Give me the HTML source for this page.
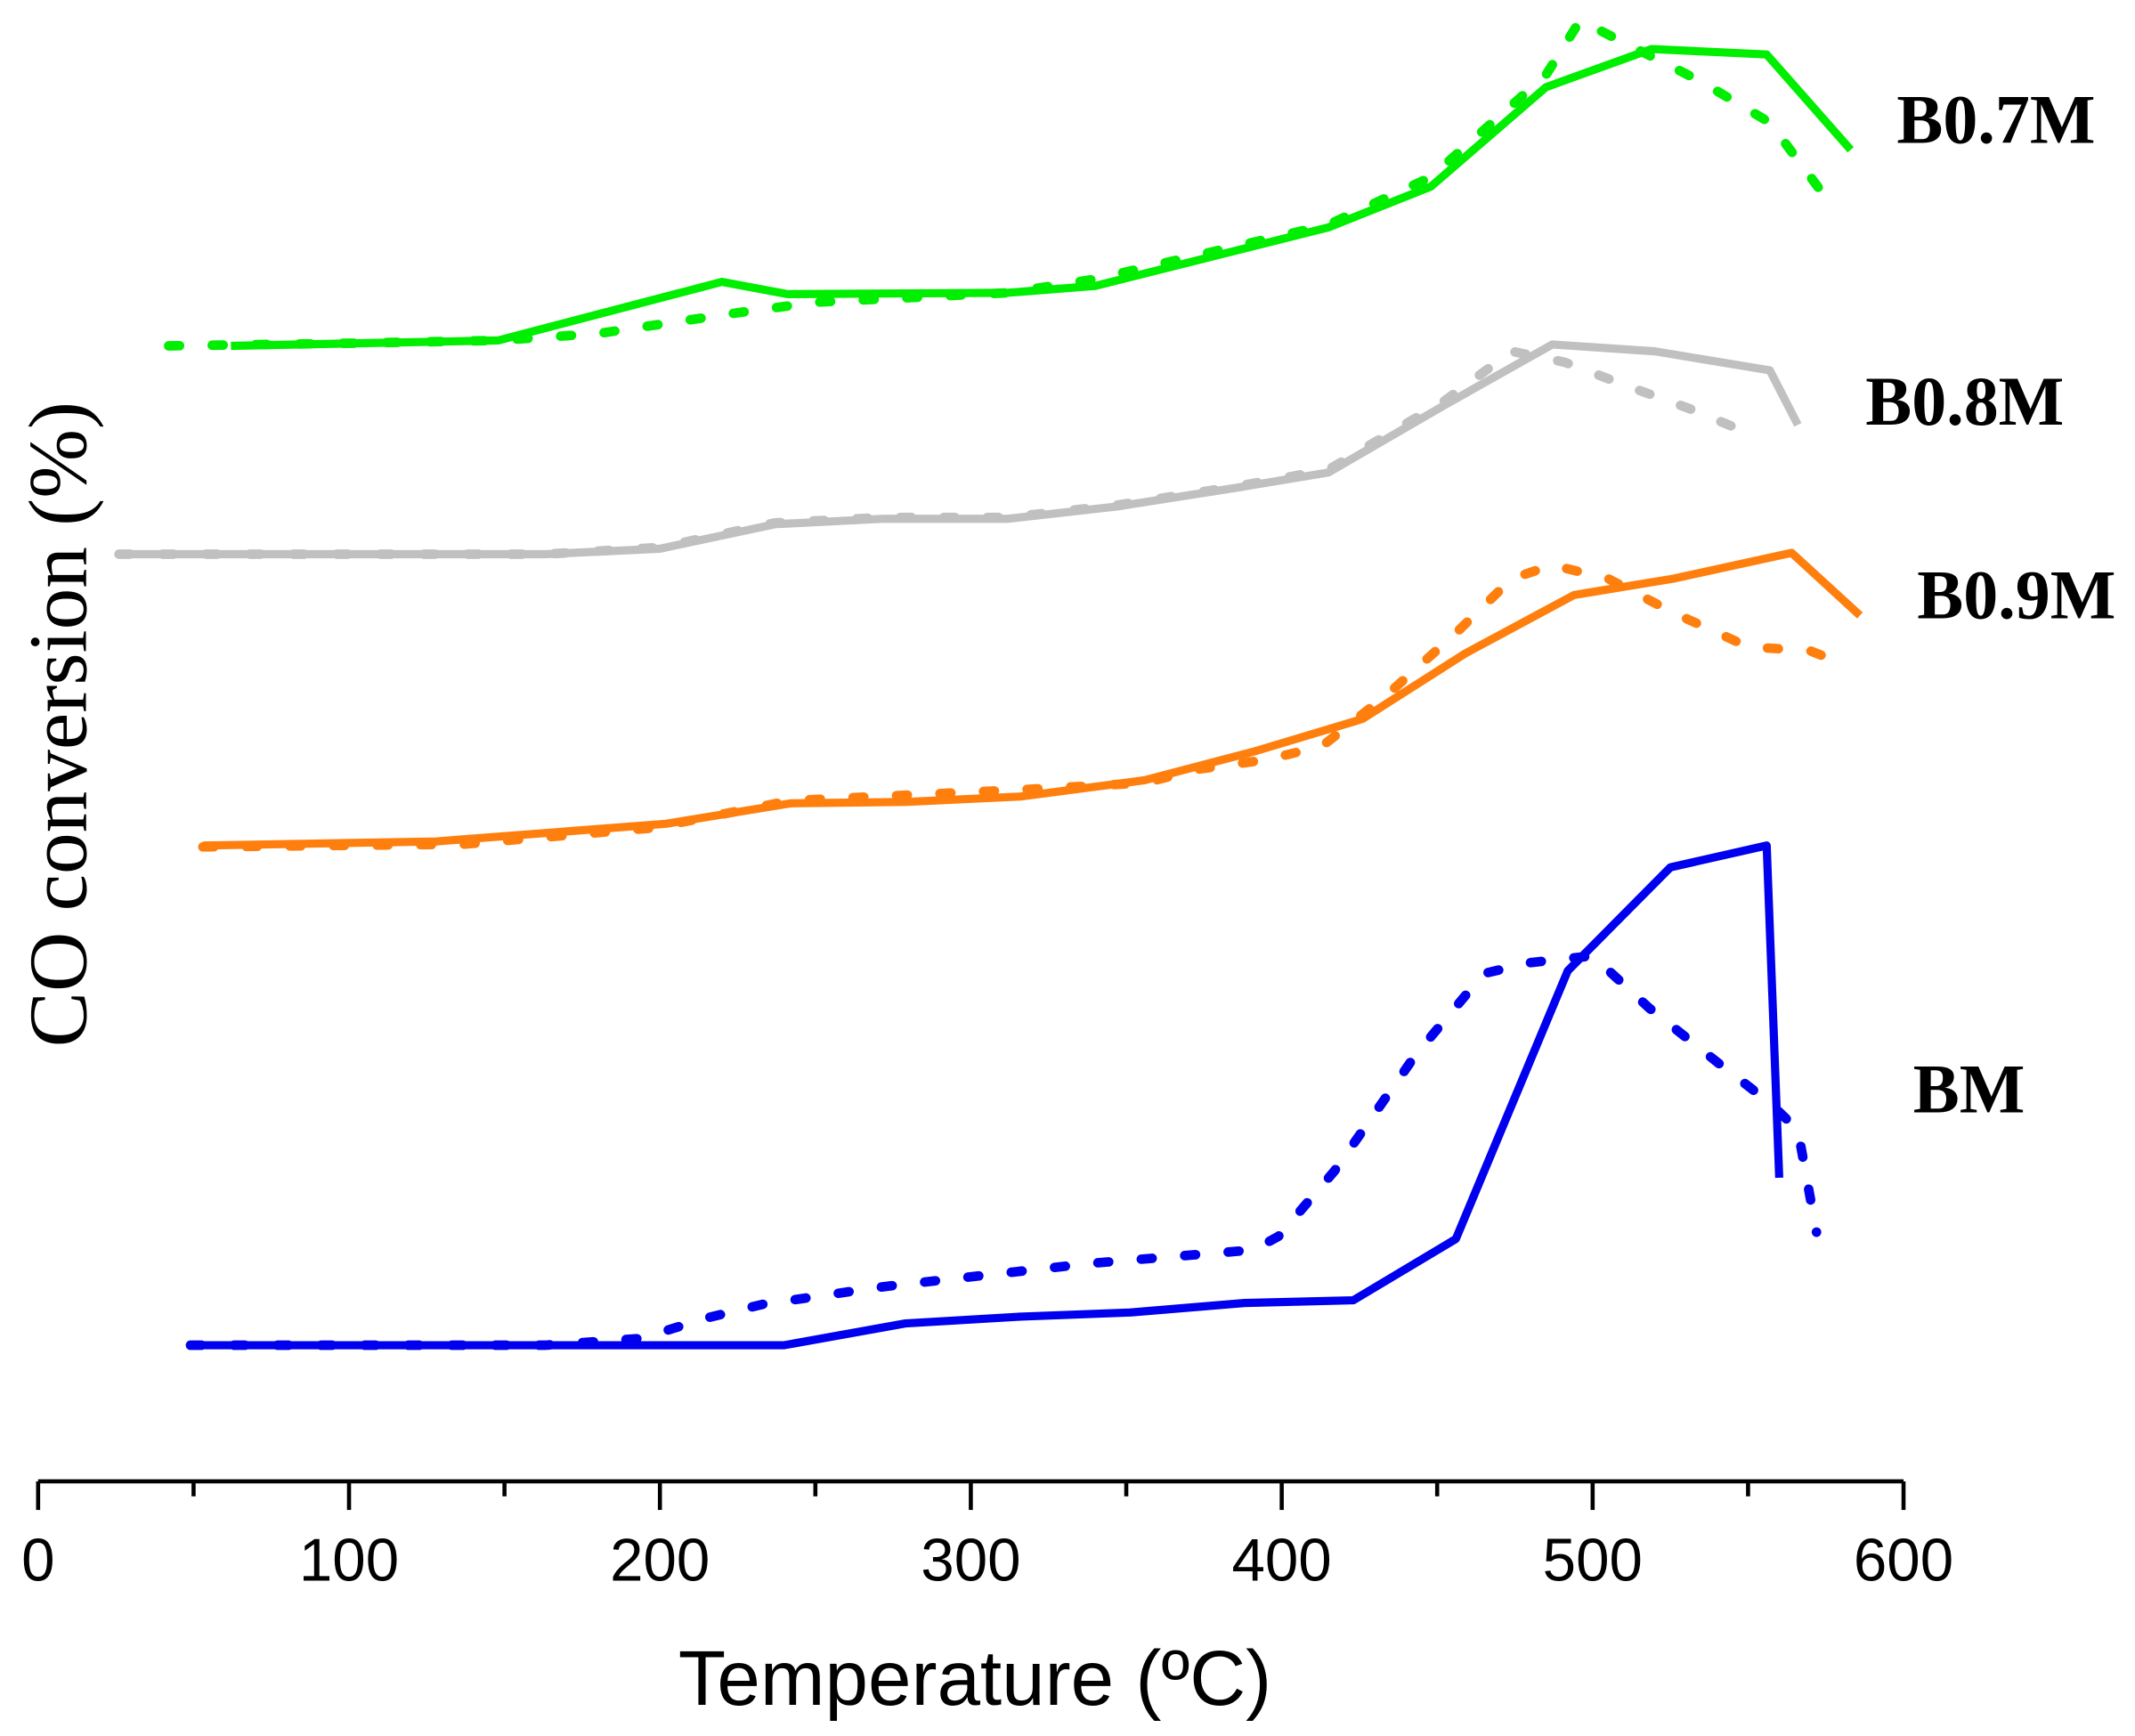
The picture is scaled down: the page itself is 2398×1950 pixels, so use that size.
<!DOCTYPE html>
<html><head><meta charset="utf-8"><style>
html,body{margin:0;padding:0;background:#fff}
svg{display:block}
</style></head><body>
<svg id="chart" width="2398" height="1950" viewBox="0 0 1568 1275" xmlns="http://www.w3.org/2000/svg">
<g id="axis"></g>
<g id="series"></g>
<text transform="translate(63,532) rotate(-90)" text-anchor="middle" font-family="Liberation Serif, serif" font-size="61">CO conversion (%)</text>
<text x="716" y="1252" text-anchor="middle" font-family="Liberation Sans, sans-serif" font-size="57">Temperature (ºC)</text>
<text x="1393" y="105" font-family="Liberation Serif, serif" font-weight="bold" font-size="51">B0.7M</text>
<text x="1370" y="312" font-family="Liberation Serif, serif" font-weight="bold" font-size="51">B0.8M</text>
<text x="1408" y="454" font-family="Liberation Serif, serif" font-weight="bold" font-size="51">B0.9M</text>
<text x="1405" y="817" font-family="Liberation Serif, serif" font-weight="bold" font-size="51">BM</text>
</svg>
<script>
const xTicks = [0,100,200,300,400,500,600];
const xMinor = [50,150,250,350,450,550];
const greenSolidT = [62,148,220,241,312,340,415,448,485,519,556,583];
const greenSolidV = [83.4,83.8,88.1,87.2,87.3,87.8,92.1,95.1,102.4,105.2,104.8,97.8];
const greenDotT = [42,102,148,180,224,250,312,340,415,448,485,496,509,535,557,575];
const greenDotV = [83.4,83.6,83.8,84.3,85.8,86.6,87.3,88.3,92.3,95.8,103.3,107.3,105.8,102.8,99.8,94.3];
const graySolidT = [26,163,200,237,272,312,347,386,415,452,487,520,557,566];
const graySolidV = [68.1,68.1,68.5,70.3,70.7,70.7,71.6,73.0,74.1,79.0,83.5,83.0,81.6,77.6];
const grayDotT = [26,163,200,237,272,312,347,386,415,426,452,474,491,513,531,549];
const grayDotV = [68.1,68.1,68.6,70.4,70.8,70.8,71.7,73.1,74.3,75.8,79.3,83.0,82.2,80.3,78.8,77.1];
const orangeSolidT = [53,128,202,242,279,316,356,391,426,459,494,526,564,586];
const orangeSolidV = [46.7,47.0,48.3,49.8,49.9,50.3,51.5,53.6,56.0,60.8,65.1,66.3,68.2,63.6];
const orangeDotT = [53,137,198,242,316,356,373,395,413,434,456,474,487,505,526,550,570,581];
const orangeDotV = [46.6,46.8,48.0,50.0,50.8,51.3,52.3,53.0,54.0,57.8,62.3,66.3,67.3,66.3,63.8,61.3,61.0,60.0];
const blueSolidT = [49,240,279,316,351,388,423,456,492,525,556,560];
const blueSolidV = [10.0,10.0,11.6,12.1,12.4,13.1,13.3,17.8,37.5,45.1,46.7,22.3];
const blueDotT = [49,163,194,215,233,272,338,391,399,417,443,465,480,500,518,540,557,566,572];
const blueDotV = [10.0,10.0,10.5,12.0,13.0,14.3,16.0,17.0,18.0,22.8,31.3,37.3,38.1,38.6,34.8,30.8,27.8,25.8,18.3];

const X0=28, X1=1398;
function xs(t){return X0+(X1-X0)*t/600;}
function ys(v){return 1088-v*10;}
const NS='http://www.w3.org/2000/svg';
const axis=document.getElementById('axis');
const series=document.getElementById('series');
function mk(tag,attrs,parent){const e=document.createElementNS(NS,tag);for(const k in attrs)e.setAttribute(k,attrs[k]);parent.appendChild(e);return e;}
const base=mk('line',{x1:X0,y1:1088,x2:X1,y2:1088,stroke:'#000','stroke-width':3},axis);


xTicks.forEach(t=>{
  const l=mk('line',{x1:xs(t),y1:1088,x2:xs(t),y2:1109,stroke:'#000','stroke-width':3},axis);
  
  
  const tx=mk('text',{x:xs(t),y:1161,'text-anchor':'middle','font-family':'Liberation Sans, sans-serif','font-size':'44'},axis);
  tx.textContent=t;
  
  
});
xMinor.forEach(t=>{
  const l=mk('line',{x1:xs(t),y1:1088,x2:xs(t),y2:1099,stroke:'#000','stroke-width':3},axis);
  
  
});
function draw(T,V,color,dotted,name){
  const d=T.map((t,i)=>(i?'L':'M')+xs(t).toFixed(1)+','+ys(V[i]).toFixed(1)).join(' ');
  const attrs={d:d,fill:'none',stroke:color,'stroke-width':6,'stroke-linejoin':'round'};
  if(dotted){attrs['stroke-dasharray']='8 24';attrs['stroke-linecap']='round';attrs['stroke-width']=7;}
  const p=mk('path',attrs,series);
  
  
}
draw(greenDotT,greenDotV,'#00ee00',true,'b07m-dotted-line');
draw(greenSolidT,greenSolidV,'#00ee00',false,'b07m-solid-line');
draw(grayDotT,grayDotV,'#c0c0c0',true,'b08m-dotted-line');
draw(graySolidT,graySolidV,'#c0c0c0',false,'b08m-solid-line');
draw(orangeDotT,orangeDotV,'#ff7f0e',true,'b09m-dotted-line');
draw(orangeSolidT,orangeSolidV,'#ff7f0e',false,'b09m-solid-line');
draw(blueDotT,blueDotV,'#0000ee',true,'bm-dotted-line');
draw(blueSolidT,blueSolidV,'#0000ee',false,'bm-solid-line');
</script>
</body></html>
